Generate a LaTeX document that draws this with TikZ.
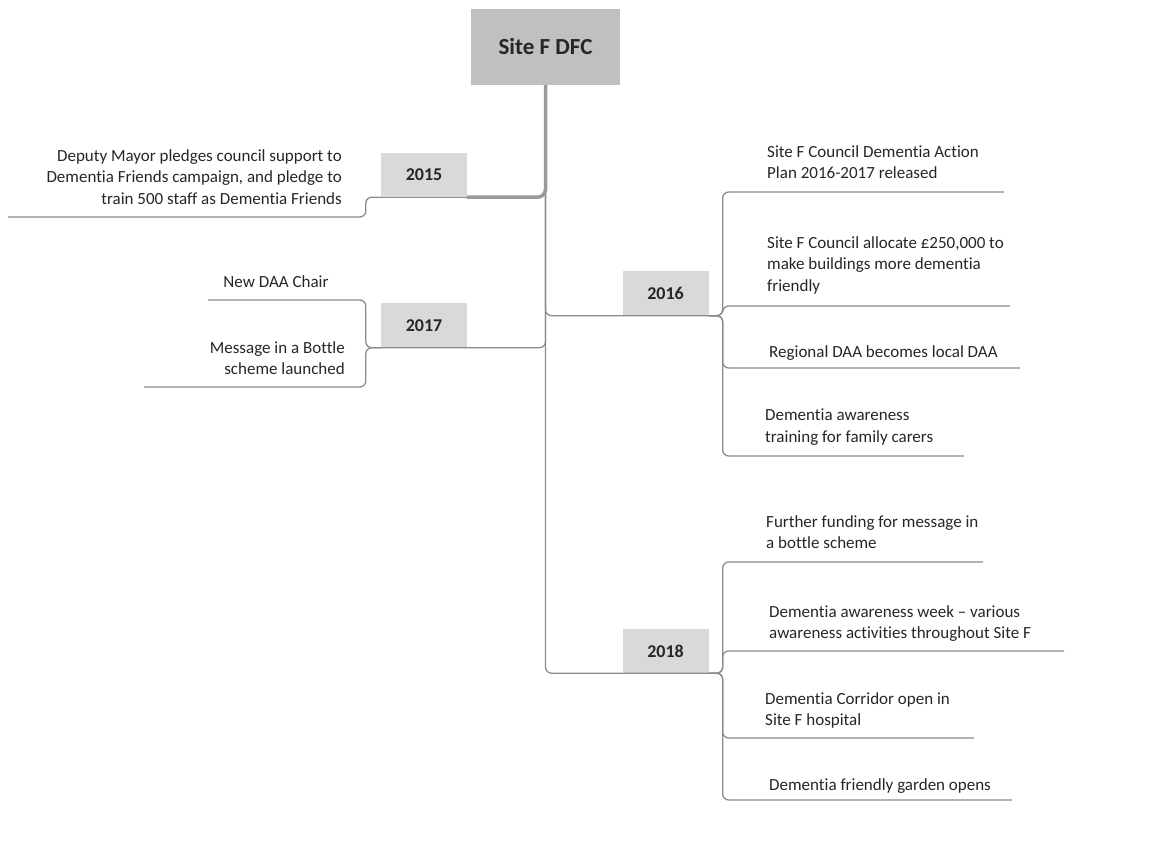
\documentclass[tikz,border=0pt]{standalone}
\usepackage{fontspec}
\setmainfont{Carlito}[Ligatures=NoCommon]
\definecolor{rootfill}{HTML}{C0C0C0}
\definecolor{yearfill}{HTML}{D9D9D9}
\definecolor{linegray}{HTML}{8C8C8C}
\definecolor{trunkgray}{HTML}{999999}
\definecolor{txt}{HTML}{262626}
\begin{document}
\begin{tikzpicture}[x=1pt,y=-1pt,
  conn/.style={draw=linegray, line width=1.3pt, rounded corners=6pt},
  trunk/.style={draw=trunkgray, line width=3.5pt, rounded corners=8pt},
  rootbox/.style={fill=rootfill, minimum width=149pt, minimum height=76pt, inner sep=0pt,
    font=\fontsize{23}{26}\selectfont\bfseries, text=txt},
  yearbox/.style={fill=yearfill, minimum width=86pt, minimum height=44pt, inner sep=0pt,
    font=\fontsize{18}{21}\selectfont\bfseries, text=txt},
  note/.style={font=\fontsize{17}{21.5}\selectfont, text=txt, align=left, inner sep=0pt},
  noter/.style={note, align=right},
  notec/.style={note, align=center},
]
\useasboundingbox (0,0) rectangle (1167,850);

% central topic and year nodes
\node[rootbox] (root) at (545.5,47) {Site F DFC};
\node[yearbox] (y15) at (424,175) {2015};
\node[yearbox] (y17) at (424,325.5) {2017};
\node[yearbox] (y16) at (665.5,293.5) {2016};
\node[yearbox] (y18) at (665.5,651) {2018};

% event texts
\node[noter, anchor=north east] (t15) at (342,149)
  {Deputy Mayor pledges council support to\\Dementia Friends campaign, and pledge to\\train 500 staff as Dementia Friends};
\node[notec, anchor=north] (t17a) at (276,275) {New DAA Chair};
\node[noter, anchor=north east] (t17b) at (345,341) {Message in a Bottle\\scheme launched};
\node[note, anchor=north west] (t16a) at (767,145) {Site F Council Dementia Action\\Plan 2016-2017 released};
\node[note, anchor=north west] (t16b) at (767,236) {Site F Council allocate £250,000 to\\make buildings more dementia\\friendly};
\node[note, anchor=north west] (t16c) at (769,345) {Regional DAA becomes local DAA};
\node[note, anchor=north west] (t16d) at (765,409) {Dementia awareness\\training for family carers};
\node[note, anchor=north west] (t18a) at (766,515) {Further funding for message in\\a bottle scheme};
\node[note, anchor=north west] (t18b) at (769,605) {Dementia awareness week – various\\awareness activities throughout Site F};
\node[note, anchor=north west] (t18c) at (765,692) {Dementia Corridor open in\\Site F hospital};
\node[note, anchor=north west] (t18d) at (769,778) {Dementia friendly garden opens};

% underline ends of the event branches
\coordinate (u15) at (8,217);
\coordinate (u17a) at (208,300);
\coordinate (u17b) at (144,387);
\coordinate (u16a) at (1004,192);
\coordinate (u16b) at (1010,306);
\coordinate (u16c) at (1020,368);
\coordinate (u16d) at (964,456);
\coordinate (u18a) at (983,562);
\coordinate (u18b) at (1064,651);
\coordinate (u18c) at (974,738);
\coordinate (u18d) at (1012,800);

% main branches from the central topic
\draw[conn] (root.south) -- (root.south |- y16.south) -- (y16.south west) -- (y16.south east);
\draw[conn] (root.south) -- (root.south |- y17.south) -- (y17.south east) -- (y17.south west);
\draw[conn] (root.south) -- (root.south |- y18.south) -- (y18.south west) -- (y18.south east);
\draw[conn] (y15.south east) -- (y15.south west);
\draw[trunk] (root.south) -- (root.south |- y15.south) -- (y15.south east);

% event branches
\draw[conn] (y15.south west) -- ++(-15,0) |- (u15);
\draw[conn] (y17.south west) -- ++(-15,0) |- (u17a);
\draw[conn] (y17.south west) -- ++(-15,0) |- (u17b);
\foreach \u in {u16a,u16b,u16c,u16d}
  \draw[conn] (y16.south east) -- ++(14,0) |- (\u);
\foreach \u in {u18a,u18b,u18c,u18d}
  \draw[conn] (y18.south east) -- ++(14,0) |- (\u);
\end{tikzpicture}
\end{document}
